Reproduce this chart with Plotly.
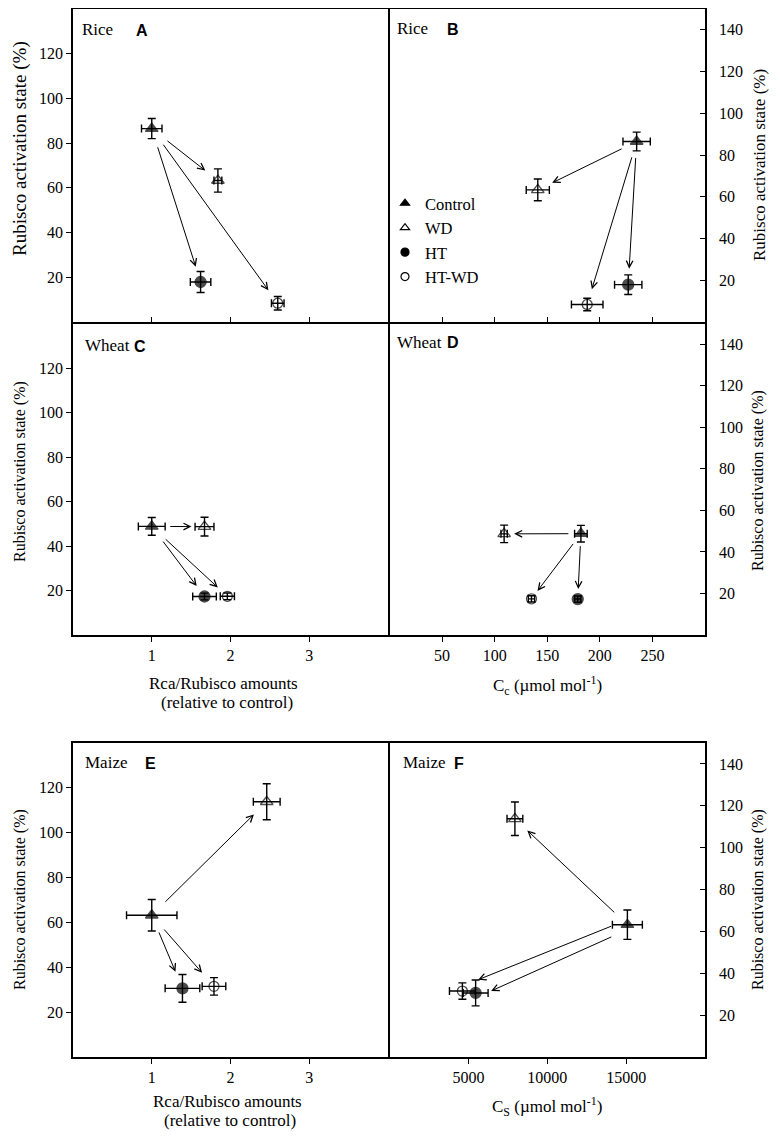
import plotly.graph_objects as go

# page pixels of the reference; the browser body has an 8 px margin, so the figure is offset by 8 px
PAGE_W, PAGE_H = 780, 1141
OFF = 8
W, H = PAGE_W - OFF, PAGE_H - OFF

treatments = ["Control", "WD", "HT", "HT-WD"]

# ---------------- data ----------------
# Rice
rice_ratio = [1.00, 1.84, 1.62, 2.60]
rice_ratio_err = [0.13, 0.05, 0.13, 0.08]
rice_state = [86.5, 63.3, 17.9, 8.4]
rice_state_err = [4.5, 5.2, 4.7, 3.0]
rice_cc = [235, 141, 227, 188]
rice_cc_err = [13, 11, 13, 15]

# Wheat
wheat_ratio = [1.00, 1.67, 1.67, 1.96]
wheat_ratio_err = [0.17, 0.12, 0.15, 0.09]
wheat_state = [48.8, 48.7, 17.3, 17.4]
wheat_state_err = [4.0, 4.2, 1.5, 1.5]
wheat_cc = [182, 109, 179, 135]
wheat_cc_err = [6, 3, 3, 3]

# Maize
maize_ratio = [1.00, 2.46, 1.39, 1.79]
maize_ratio_err = [0.32, 0.17, 0.22, 0.15]
maize_state = [63.2, 113.8, 30.6, 31.5]
maize_state_err = [7.0, 8.0, 6.2, 3.9]
maize_cs = [15080, 7950, 5460, 4620]
maize_cs_err = [950, 500, 790, 820]

# ticks
ratio_ticks = [1, 2, 3]
cc_ticks = [50, 100, 150, 200, 250]
cs_ticks = [5000, 10000, 15000]
left_state_ticks = [20, 40, 60, 80, 100, 120]
right_state_ticks = [20, 40, 60, 80, 100, 120, 140]

# ---------------- style ----------------
SERIF = "Liberation Serif, Times New Roman, Times, serif"
SANS = "Liberation Sans, Arial, sans-serif"
BLACK = "black"
LW = 1.5
symbols = ["triangle-up", "triangle-up-open", "circle", "circle-open"]
sizes = [11, 11, 11, 10]


def px(xp):
    return (xp - OFF) / W


def py(yp):
    return 1 - (yp - OFF) / H


# lines are drawn outside the domain by LW/2, so neighbouring domains are spaced by LW
LEFT = [px(73), px(388)]
RIGHT = [px(388 + LW), px(705)]
ROW1 = [py(322), py(9)]
ROW2 = [py(635), py(322 + LW)]
ROW3 = [py(1057), py(743)]

panels = [
    dict(n=1, x=rice_ratio, xe=rice_ratio_err, y=rice_state, ye=rice_state_err, xd=LEFT, yd=ROW1,
         xr=[0, 4], yr=[0, 140], xt=ratio_ticks, xl=False, xtd="inside", side="left",
         crop="Rice", letter="A", so=(18, 16), lab=(80, 30, 142)),
    dict(n=2, x=rice_cc, xe=rice_cc_err, y=rice_state, ye=rice_state_err, xd=RIGHT, yd=ROW1,
         xr=[0, 300], yr=[0, 150], xt=cc_ticks, xl=False, xtd="inside", side="right",
         crop="Rice", letter="B", so=(15, 16), lab=(395, 28, 453)),
    dict(n=3, x=wheat_ratio, xe=wheat_ratio_err, y=wheat_state, ye=wheat_state_err, xd=LEFT, yd=ROW2,
         xr=[0, 4], yr=[0, 140], xt=ratio_ticks, xl=True, xtd="outside", side="left",
         crop="Wheat", letter="C", so=(17, 13), lab=(83, 345, 140)),
    dict(n=4, x=wheat_cc, xe=wheat_cc_err, y=wheat_state, ye=wheat_state_err, xd=RIGHT, yd=ROW2,
         xr=[0, 300], yr=[0, 150], xt=cc_ticks, xl=True, xtd="outside", side="right",
         crop="Wheat", letter="D", so=(11, 10), lab=(395, 342, 453)),
    dict(n=5, x=maize_ratio, xe=maize_ratio_err, y=maize_state, ye=maize_state_err, xd=LEFT, yd=ROW3,
         xr=[0, 4], yr=[0, 140], xt=ratio_ticks, xl=True, xtd="outside", side="left",
         crop="Maize", letter="E", so=(17, 18), lab=(83, 762, 150)),
    dict(n=6, x=maize_cs, xe=maize_cs_err, y=maize_state, ye=maize_state_err, xd=RIGHT, yd=ROW3,
         xr=[0, 20000], yr=[0, 150], xt=cs_ticks, xl=True, xtd="outside", side="right",
         crop="Maize", letter="F", so=(16, 17), lab=(401, 762, 459)),
]

# vertical pixel shifts for the arrows (Control->WD, ->HT, ->HT-WD) per panel
arrow_yshift = {1: [0, 0, 0], 2: [0, 0, 0], 3: [0, 0, 0], 4: [0, 0, 0], 5: [0, 0, 0], 6: [0, -5, 5]}

fig = go.Figure()
annotations = []
layout = {}

for p in panels:
    n = p["n"]
    xa = "x" if n == 1 else f"x{n}"
    ya = "y" if n == 1 else f"y{n}"
    xkey = "xaxis" if n == 1 else f"xaxis{n}"
    ykey = "yaxis" if n == 1 else f"yaxis{n}"

    fig.add_trace(go.Scatter(
        x=p["x"], y=p["y"], mode="markers", xaxis=xa, yaxis=ya, showlegend=False,
        marker=dict(symbol=symbols, size=sizes, color=BLACK, line=dict(color=BLACK, width=1.3)),
        error_x=dict(type="data", array=p["xe"], visible=True, color=BLACK, thickness=1.4, width=4),
        error_y=dict(type="data", array=p["ye"], visible=True, color=BLACK, thickness=1.4, width=4),
    ))

    layout[xkey] = dict(
        domain=p["xd"], anchor=ya, range=p["xr"], showgrid=False, zeroline=False,
        showline=True, linecolor=BLACK, linewidth=LW, mirror=True,
        tickmode="array", tickvals=p["xt"], ticktext=[str(t) for t in p["xt"]],
        ticks=p["xtd"], ticklen=5, tickwidth=1.3, tickcolor=BLACK,
        showticklabels=p["xl"], tickfont=dict(family=SERIF, size=16, color=BLACK),
        automargin=False,
    )
    yt = left_state_ticks if p["side"] == "left" else right_state_ticks
    ydict = dict(
        domain=p["yd"], anchor=xa, range=p["yr"], side=p["side"], showgrid=False, zeroline=False,
        showline=True, linecolor=BLACK, linewidth=LW, mirror=True,
        tickmode="array", tickvals=yt, ticktext=[str(t) for t in yt],
        ticks="outside" if p["side"] == "left" else "inside", ticklen=5, tickwidth=1.3, tickcolor=BLACK,
        tickfont=dict(family=SERIF, size=16, color=BLACK), automargin=False,
    )
    if p["side"] == "right":
        ydict["ticklabelstandoff"] = 9
    layout[ykey] = ydict

    # arrows from Control to each treatment
    for i in range(1, 4):
        annotations.append(dict(
            x=p["x"][i], y=p["y"][i], ax=p["x"][0], ay=p["y"][0],
            xref=xa, yref=ya, axref=xa, ayref=ya, text="", showarrow=True,
            arrowhead=5, arrowsize=1.3, arrowwidth=1, arrowcolor=BLACK,
            standoff=p["so"][1], startstandoff=p["so"][0], yshift=arrow_yshift[n][i - 1],
        ))

    # crop and panel letter
    lx, ly, letx = p["lab"]
    annotations.append(dict(x=px(lx), y=py(ly), xref="paper", yref="paper", text=p["crop"],
                            showarrow=False, xanchor="left", yanchor="middle",
                            font=dict(family=SERIF, size=17, color=BLACK)))
    annotations.append(dict(x=px(letx), y=py(ly + 1), xref="paper", yref="paper", text=f"<b>{p['letter']}</b>",
                            showarrow=False, xanchor="center", yanchor="middle",
                            font=dict(family=SANS, size=16, color=BLACK)))

# legend-only traces (shown inside panel B)
for t, s in zip(treatments, symbols):
    fig.add_trace(go.Scatter(
        x=[None], y=[None], mode="markers", name=t, xaxis="x2", yaxis="y2", showlegend=True,
        marker=dict(symbol=s, size=8, color=BLACK, line=dict(color=BLACK, width=1.2)),
    ))

# y-axis titles
ytitle = "Rubisco activation state (%)"
for (cx, cy, fs) in [(20, 149, 19), (20, 472, 16), (20, 900, 16),
                     (759, 165, 17), (758, 481, 16), (758, 900, 16)]:
    annotations.append(dict(x=px(cx), y=py(cy), xref="paper", yref="paper", text=ytitle,
                            textangle=-90, showarrow=False, xanchor="center", yanchor="middle",
                            font=dict(family=SERIF, size=fs, color=BLACK)))

# x-axis titles
for (cx, cy, txt) in [(223, 683, "Rca/Rubisco amounts"), (227, 702, "(relative to control)"),
                      (227, 1101, "Rca/Rubisco amounts"), (230, 1120, "(relative to control)"),
                      (547, 685, "C<sub>c</sub> (µmol mol<sup>-1</sup>)"),
                      (547, 1106, "C<sub>S</sub> (µmol mol<sup>-1</sup>)")]:
    annotations.append(dict(x=px(cx), y=py(cy), xref="paper", yref="paper", text=txt,
                            showarrow=False, xanchor="center", yanchor="middle",
                            font=dict(family=SERIF, size=17, color=BLACK)))

fig.update_layout(
    width=W, height=H, margin=dict(l=0, r=0, t=0, b=0),
    paper_bgcolor="white", plot_bgcolor="rgba(0,0,0,0)",
    showlegend=True,
    legend=dict(x=px(385), y=py(186), xanchor="left", yanchor="top",
                font=dict(family=SERIF, size=16.5, color=BLACK), bgcolor="rgba(0,0,0,0)",
                tracegroupgap=0, itemwidth=30),
    annotations=annotations,
    **layout,
)

fig.write_html("out.html")
